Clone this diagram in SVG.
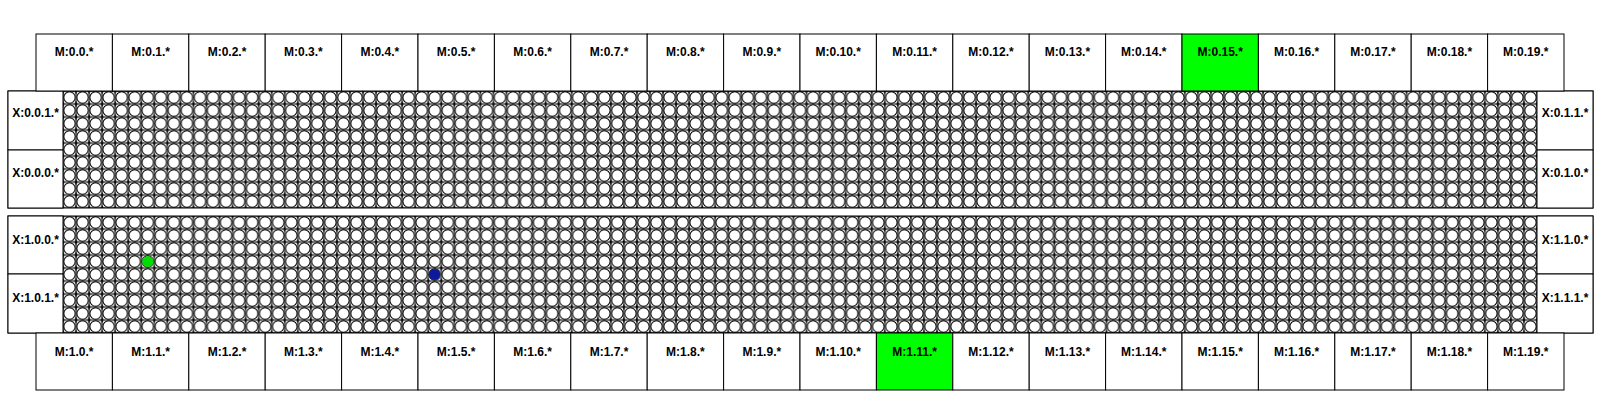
<svg xmlns="http://www.w3.org/2000/svg" width="1600" height="400" viewBox="0 0 1600 400">
<style>
.box{fill:#fff;stroke:#000;stroke-width:1}
.hl{fill:#00ff00;stroke:#000;stroke-width:1}
.lbl{font-family:"Liberation Sans",Arial,Helvetica,sans-serif;font-size:12px;font-weight:bold;fill:#000;text-anchor:middle}
.frame{fill:none;stroke:#000;stroke-width:1}
</style>
<defs>
<pattern id="circ" patternUnits="userSpaceOnUse" x="63" y="91" width="13.0442" height="13">
<circle cx="6.5221" cy="6.5" r="5.7" fill="#fff" stroke="#000" stroke-width="1"/>
</pattern>
<pattern id="cross" patternUnits="userSpaceOnUse" x="56.4779" y="84.5" width="13.0442" height="13">
<path d="M6.5221,0V13M0,6.5H13.0442" stroke="#000" stroke-width="1" fill="none"/>
<path d="M6.5221,3.8Q6.5221,6.5 9.2221,6.5Q6.5221,6.5 6.5221,9.2Q6.5221,6.5 3.8221,6.5Q6.5221,6.5 6.5221,3.8Z" fill="#000" stroke="#000" stroke-width="0.6"/>
</pattern>
</defs>
<rect width="1600" height="400" fill="#fff"/>
<g id="grid0">
<rect x="63" y="91" width="1474" height="117" fill="#fff"/>
<rect x="63" y="91" width="1474" height="117" fill="url(#circ)"/>
<rect x="63" y="91" width="1474" height="117" fill="url(#cross)"/>
<rect class="frame" x="8" y="91" width="1585" height="117"/>
</g>
<g id="grid1">
<g transform="translate(0,125)">
<rect x="63" y="91" width="1474" height="117" fill="#fff"/>
<rect x="63" y="91" width="1474" height="117" fill="url(#circ)"/>
<rect x="63" y="91" width="1474" height="117" fill="url(#cross)"/>
</g>
<rect class="frame" x="8" y="216" width="1585" height="117"/>
</g>
<g id="X001"><rect class="box" x="8" y="91" width="55" height="59"/><text class="lbl" x="35.5" y="117">X:0.0.1.*</text></g>
<g id="X000"><rect class="box" x="8" y="150" width="55" height="58"/><text class="lbl" x="35.5" y="177">X:0.0.0.*</text></g>
<g id="X011"><rect class="box" x="1537" y="91" width="56" height="59"/><text class="lbl" x="1565" y="117">X:0.1.1.*</text></g>
<g id="X010"><rect class="box" x="1537" y="150" width="56" height="58"/><text class="lbl" x="1565" y="177">X:0.1.0.*</text></g>
<g id="X100"><rect class="box" x="8" y="216" width="55" height="58"/><text class="lbl" x="35.5" y="244">X:1.0.0.*</text></g>
<g id="X101"><rect class="box" x="8" y="274" width="55" height="59"/><text class="lbl" x="35.5" y="302">X:1.0.1.*</text></g>
<g id="X110"><rect class="box" x="1537" y="216" width="56" height="58"/><text class="lbl" x="1565" y="244">X:1.1.0.*</text></g>
<g id="X111"><rect class="box" x="1537" y="274" width="56" height="59"/><text class="lbl" x="1565" y="302">X:1.1.1.*</text></g>
<g id="M0_0"><rect class="box" x="36" y="34" width="76.4" height="57"/><text class="lbl" x="74.2" y="56">M:0.0.*</text></g>
<g id="M0_1"><rect class="box" x="112.4" y="34" width="76.4" height="57"/><text class="lbl" x="150.6" y="56">M:0.1.*</text></g>
<g id="M0_2"><rect class="box" x="188.8" y="34" width="76.4" height="57"/><text class="lbl" x="227" y="56">M:0.2.*</text></g>
<g id="M0_3"><rect class="box" x="265.2" y="34" width="76.4" height="57"/><text class="lbl" x="303.4" y="56">M:0.3.*</text></g>
<g id="M0_4"><rect class="box" x="341.6" y="34" width="76.4" height="57"/><text class="lbl" x="379.8" y="56">M:0.4.*</text></g>
<g id="M0_5"><rect class="box" x="418" y="34" width="76.4" height="57"/><text class="lbl" x="456.2" y="56">M:0.5.*</text></g>
<g id="M0_6"><rect class="box" x="494.4" y="34" width="76.4" height="57"/><text class="lbl" x="532.6" y="56">M:0.6.*</text></g>
<g id="M0_7"><rect class="box" x="570.8" y="34" width="76.4" height="57"/><text class="lbl" x="609" y="56">M:0.7.*</text></g>
<g id="M0_8"><rect class="box" x="647.2" y="34" width="76.4" height="57"/><text class="lbl" x="685.4" y="56">M:0.8.*</text></g>
<g id="M0_9"><rect class="box" x="723.6" y="34" width="76.4" height="57"/><text class="lbl" x="761.8" y="56">M:0.9.*</text></g>
<g id="M0_10"><rect class="box" x="800" y="34" width="76.4" height="57"/><text class="lbl" x="838.2" y="56">M:0.10.*</text></g>
<g id="M0_11"><rect class="box" x="876.4" y="34" width="76.4" height="57"/><text class="lbl" x="914.6" y="56">M:0.11.*</text></g>
<g id="M0_12"><rect class="box" x="952.8" y="34" width="76.4" height="57"/><text class="lbl" x="991" y="56">M:0.12.*</text></g>
<g id="M0_13"><rect class="box" x="1029.2" y="34" width="76.4" height="57"/><text class="lbl" x="1067.4" y="56">M:0.13.*</text></g>
<g id="M0_14"><rect class="box" x="1105.6" y="34" width="76.4" height="57"/><text class="lbl" x="1143.8" y="56">M:0.14.*</text></g>
<g id="M0_15"><rect class="hl" x="1182" y="34" width="76.4" height="57"/><text class="lbl" x="1220.2" y="56">M:0.15.*</text></g>
<g id="M0_16"><rect class="box" x="1258.4" y="34" width="76.4" height="57"/><text class="lbl" x="1296.6" y="56">M:0.16.*</text></g>
<g id="M0_17"><rect class="box" x="1334.8" y="34" width="76.4" height="57"/><text class="lbl" x="1373" y="56">M:0.17.*</text></g>
<g id="M0_18"><rect class="box" x="1411.2" y="34" width="76.4" height="57"/><text class="lbl" x="1449.4" y="56">M:0.18.*</text></g>
<g id="M0_19"><rect class="box" x="1487.6" y="34" width="76.4" height="57"/><text class="lbl" x="1525.8" y="56">M:0.19.*</text></g>
<g id="M1_0"><rect class="box" x="36" y="333" width="76.4" height="57"/><text class="lbl" x="74.2" y="355.5">M:1.0.*</text></g>
<g id="M1_1"><rect class="box" x="112.4" y="333" width="76.4" height="57"/><text class="lbl" x="150.6" y="355.5">M:1.1.*</text></g>
<g id="M1_2"><rect class="box" x="188.8" y="333" width="76.4" height="57"/><text class="lbl" x="227" y="355.5">M:1.2.*</text></g>
<g id="M1_3"><rect class="box" x="265.2" y="333" width="76.4" height="57"/><text class="lbl" x="303.4" y="355.5">M:1.3.*</text></g>
<g id="M1_4"><rect class="box" x="341.6" y="333" width="76.4" height="57"/><text class="lbl" x="379.8" y="355.5">M:1.4.*</text></g>
<g id="M1_5"><rect class="box" x="418" y="333" width="76.4" height="57"/><text class="lbl" x="456.2" y="355.5">M:1.5.*</text></g>
<g id="M1_6"><rect class="box" x="494.4" y="333" width="76.4" height="57"/><text class="lbl" x="532.6" y="355.5">M:1.6.*</text></g>
<g id="M1_7"><rect class="box" x="570.8" y="333" width="76.4" height="57"/><text class="lbl" x="609" y="355.5">M:1.7.*</text></g>
<g id="M1_8"><rect class="box" x="647.2" y="333" width="76.4" height="57"/><text class="lbl" x="685.4" y="355.5">M:1.8.*</text></g>
<g id="M1_9"><rect class="box" x="723.6" y="333" width="76.4" height="57"/><text class="lbl" x="761.8" y="355.5">M:1.9.*</text></g>
<g id="M1_10"><rect class="box" x="800" y="333" width="76.4" height="57"/><text class="lbl" x="838.2" y="355.5">M:1.10.*</text></g>
<g id="M1_11"><rect class="hl" x="876.4" y="333" width="76.4" height="57"/><text class="lbl" x="914.6" y="355.5">M:1.11.*</text></g>
<g id="M1_12"><rect class="box" x="952.8" y="333" width="76.4" height="57"/><text class="lbl" x="991" y="355.5">M:1.12.*</text></g>
<g id="M1_13"><rect class="box" x="1029.2" y="333" width="76.4" height="57"/><text class="lbl" x="1067.4" y="355.5">M:1.13.*</text></g>
<g id="M1_14"><rect class="box" x="1105.6" y="333" width="76.4" height="57"/><text class="lbl" x="1143.8" y="355.5">M:1.14.*</text></g>
<g id="M1_15"><rect class="box" x="1182" y="333" width="76.4" height="57"/><text class="lbl" x="1220.2" y="355.5">M:1.15.*</text></g>
<g id="M1_16"><rect class="box" x="1258.4" y="333" width="76.4" height="57"/><text class="lbl" x="1296.6" y="355.5">M:1.16.*</text></g>
<g id="M1_17"><rect class="box" x="1334.8" y="333" width="76.4" height="57"/><text class="lbl" x="1373" y="355.5">M:1.17.*</text></g>
<g id="M1_18"><rect class="box" x="1411.2" y="333" width="76.4" height="57"/><text class="lbl" x="1449.4" y="355.5">M:1.18.*</text></g>
<g id="M1_19"><rect class="box" x="1487.6" y="333" width="76.4" height="57"/><text class="lbl" x="1525.8" y="355.5">M:1.19.*</text></g>
<g id="dot_green"><circle cx="147.7" cy="261.5" r="5.6" fill="#00dd00"/></g>
<g id="dot_blue"><circle cx="434.6" cy="274.5" r="5.6" fill="#0a1a9a"/></g>
<g id="connectors"></g>
</svg>
